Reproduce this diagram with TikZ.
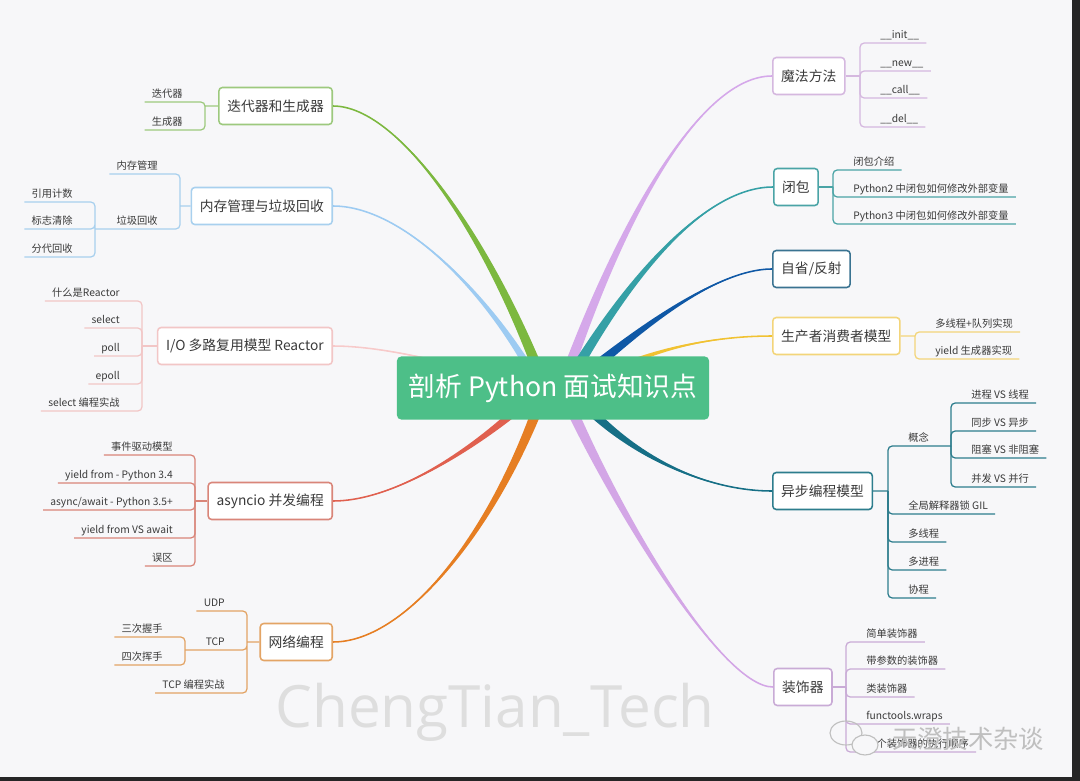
\documentclass[tikz,border=0pt]{standalone}
\usepackage{fontspec}
\setmainfont{Noto Sans CJK SC}
\newfontfamily\markfont{Open Sans}
\usetikzlibrary{calc}

\definecolor{paper}{HTML}{F7F7F9}
\definecolor{frame}{HTML}{262626}
\definecolor{ink}{HTML}{3A3A3A}
\definecolor{rootgreen}{HTML}{4DBF88}
\definecolor{cIter}{HTML}{7CB83F}  \definecolor{lIter}{HTML}{9DC97E}
\definecolor{cMem}{HTML}{9DCBF2}   \definecolor{lMem}{HTML}{A8D0EE}
\definecolor{cIO}{HTML}{F7CACA}    \definecolor{lIO}{HTML}{F2C6C6}
\definecolor{cAio}{HTML}{E0604F}   \definecolor{lAio}{HTML}{D98579}
\definecolor{cNet}{HTML}{E67E22}   \definecolor{lNet}{HTML}{E3A465}
\definecolor{cMagic}{HTML}{D5A8EA} \definecolor{lMagic}{HTML}{D5B8DF}
\definecolor{cClos}{HTML}{35A0A6}  \definecolor{lClos}{HTML}{4AA4A6}
\definecolor{cRefl}{HTML}{0F58A6}  \definecolor{lRefl}{HTML}{3A7391}
\definecolor{cProd}{HTML}{F1C232}  \definecolor{lProd}{HTML}{F3D57A}
\definecolor{cAsync}{HTML}{166F86} \definecolor{lAsync}{HTML}{2D7D8D}
\definecolor{cDeco}{HTML}{D3A6E6}  \definecolor{lDeco}{HTML}{C9ABD6}

\pgfdeclarelayer{back}
\pgfdeclarelayer{limbs}
\pgfsetlayers{back,limbs,main}

% tapered branch: colour, start (offset from root), control 1, control 2, end, half width
\newcommand{\limb}[6]{%
  \fill[#1] ($(root)+#2+#6$) .. controls ($#3+0.5*#6$) and #4 .. #5
    .. controls #4 and ($#3-0.5*#6$) .. ($(root)+#2-#6$) -- cycle;
  \draw[#1,line width=1.1pt] ($(root)+#2$) .. controls #3 and #4 .. #5;}

\begin{document}
\begin{tikzpicture}[x=0.025cm,y=-0.025cm,
  root/.style={fill=rootgreen,text=white,rounded corners=3pt,minimum width=7.8cm,
    minimum height=1.575cm,font=\fontsize{19}{22}\selectfont},
  topic/.style={draw=#1,fill=white,rounded corners=2.5pt,line width=1.1pt,text=ink,
    font=\fontsize{9.8}{12}\selectfont,inner xsep=6pt,minimum height=0.925cm},
  leaf/.style={text=ink,font=\fontsize{7.3}{9}\selectfont,inner xsep=0.175cm,
    inner ysep=1.5pt,text height=5.6pt,text depth=1.2pt},
  leafL/.style={leaf,anchor=south east},
  leafR/.style={leaf,anchor=south west},
  twig/.style={draw=#1,line width=0.9pt,rounded corners=3pt},
  wmark/.style={font=\markfont\fontsize{41.5}{44}\selectfont,anchor=base},
  wmarkcn/.style={font=\fontsize{18}{22}\selectfont,anchor=base}]
\useasboundingbox (0,0) rectangle (1080,781);
\begin{pgfonlayer}{back}
  \fill[frame] (0,0) rectangle (1080,781);
  \fill[paper] (0,0) rectangle (1072,777);
\end{pgfonlayer}

\node[root] (root) at (553,388) {剖析 Python 面试知识点};

% left topics
\node[topic=lIter,anchor=east] (iter) at (333,106) {迭代器和生成器};
\node[topic=lMem,anchor=east] (mem) at (333,206) {内存管理与垃圾回收};
\node[topic=lIO,anchor=east] (io) at (333,346) {I/O 多路复用模型 Reactor};
\node[topic=lAio,anchor=east] (aio) at (333,501) {asyncio 并发编程};
\node[topic=lNet,anchor=east] (net) at (333,642) {网络编程};
% right topics
\node[topic=lMagic,anchor=west] (magic) at (772,76) {魔法方法};
\node[topic=lClos,anchor=west] (clos) at (773,187) {闭包};
\node[topic=lRefl,anchor=west] (refl) at (772,269) {自省/反射};
\node[topic=lProd,anchor=west] (prod) at (772,336) {生产者消费者模型};
\node[topic=lAsync,anchor=west] (async) at (772,491) {异步编程模型};
\node[topic=lDeco,anchor=west] (deco) at (773,687) {装饰器};

\begin{pgfonlayer}{limbs}
  \limb{cIter}{(-8,0)}{(490,240)}{(400,106)}{(iter.east)}{(6,0)}
  \limb{cMem}{(-13,0)}{(500,310)}{(410,206)}{(mem.east)}{(5,0)}
  \limb{cIO}{(-20,0)}{(470,368)}{(390,346)}{(io.east)}{(0,2.5)}
  \limb{cAio}{(-13,0)}{(510,420)}{(410,501)}{(aio.east)}{(4,4)}
  \limb{cNet}{(-8,0)}{(500,520)}{(410,642)}{(net.east)}{(6,0)}
  \limb{cMagic}{(9,0)}{(620,220)}{(700,76)}{(magic.west)}{(6,0)}
  \limb{cClos}{(12,0)}{(620,290)}{(700,187)}{(clos.west)}{(5,3)}
  \limb{cRefl}{(17,0)}{(620,345)}{(710,269)}{(refl.west)}{(4,5)}
  \limb{cProd}{(27,0)}{(640,350)}{(710,336)}{(prod.west)}{(2,3.5)}
  \limb{cAsync}{(17,0)}{(620,450)}{(700,491)}{(async.west)}{(4.5,-3.5)}
  \limb{cDeco}{(9,0)}{(610,500)}{(720,687)}{(deco.west)}{(5.5,-2.4)}
\end{pgfonlayer}

% bracket points
\coordinate (iterB) at (205,106);
\coordinate (memB) at (180,206);
\coordinate (gcB) at (95,229);
\coordinate (ioB) at (142,346);
\coordinate (aioB) at (195,501);
\coordinate (netB) at (247,642);
\coordinate (tcpB) at (185,650);
\coordinate (magicB) at (860,76);
\coordinate (closB) at (833,187);
\coordinate (prodB) at (915,336);
\coordinate (asyncB) at (888,491);
\coordinate (ideaB) at (951,446);
\coordinate (decoB) at (846,687);

% iterators
\node[leafL] (iter1) at (190,102) {迭代器};
\node[leafL] (iter2) at (190,130) {生成器};
\draw[twig=lIter] (iter.west) -- (iterB)
  (iterB) |- (iter1.south west) (iterB) |- (iter2.south west);

% memory
\node[leafL] (mem1) at (165,174) {内存管理};
\node[leafL] (gc) at (165,229) {垃圾回收};
\node[leafL] (gc1) at (80,202) {引用计数};
\node[leafL] (gc2) at (80,229) {标志清除};
\node[leafL] (gc3) at (80,257) {分代回收};
\draw[twig=lMem] (mem.west) -- (memB)
  (memB) |- (mem1.south west) (memB) |- (gcB);
\draw[twig=lMem] (gcB) |- (gc1.south west) (gcB) |- (gc2.south west)
  (gcB) |- (gc3.south west);

% io multiplexing
\node[leafL] (io1) at (127,301) {什么是Reactor};
\node[leafL] (io2) at (127,328) {select};
\node[leafL] (io3) at (127,356) {poll};
\node[leafL] (io4) at (127,384) {epoll};
\node[leafL] (io5) at (127,411) {select 编程实战};
\draw[twig=lIO] (io.west) -- (ioB);
\foreach \i in {1,...,5}
  \draw[twig=lIO] (ioB) |- (io\i.south west);

% asyncio
\node[leafL] (aio1) at (180,455) {事件驱动模型};
\node[leafL] (aio2) at (180,483) {yield from - Python 3.4};
\node[leafL] (aio3) at (180,510) {async/await - Python 3.5+};
\node[leafL] (aio4) at (180,538) {yield from VS await};
\node[leafL] (aio5) at (180,566) {误区};
\draw[twig=lAio] (aio.west) -- (aioB);
\foreach \i in {1,...,5}
  \draw[twig=lAio] (aioB) |- (aio\i.south west);

% network
\node[leafL] (udp) at (232,611) {UDP};
\node[leafL] (tcp) at (232,650) {TCP};
\node[leafL] (tcp1) at (170,637) {三次握手};
\node[leafL] (tcp2) at (170,665) {四次挥手};
\node[leafL] (tcp3) at (232,693) {TCP 编程实战};
\draw[twig=lNet] (net.west) -- (netB)
  (netB) |- (udp.south west) (netB) |- (tcpB) (netB) |- (tcp3.south west);
\draw[twig=lNet] (tcpB) |- (tcp1.south west) (tcpB) |- (tcp2.south west);

% magic methods
\node[leafR] (mg1) at (873,43) {\_\_init\_\_};
\node[leafR] (mg2) at (873,71) {\_\_new\_\_};
\node[leafR] (mg3) at (873,98) {\_\_call\_\_};
\node[leafR] (mg4) at (873,127) {\_\_del\_\_};
\draw[twig=lMagic] (magic.east) -- (magicB);
\foreach \i in {1,...,4}
  \draw[twig=lMagic] (magicB) |- (mg\i.south east);

% closures
\node[leafR] (cl1) at (846,170) {闭包介绍};
\node[leafR] (cl2) at (846,197) {Python2 中闭包如何修改外部变量};
\node[leafR] (cl3) at (846,224) {Python3 中闭包如何修改外部变量};
\draw[twig=lClos] (clos.east) -- (closB);
\foreach \i in {1,...,3}
  \draw[twig=lClos] (closB) |- (cl\i.south east);

% producer / consumer
\node[leafR] (pc1) at (928,332) {多线程+队列实现};
\node[leafR] (pc2) at (928,359) {yield 生成器实现};
\draw[twig=lProd] (prod.east) -- (prodB)
  (prodB) |- (pc1.south east) (prodB) |- (pc2.south east);

% async models
\node[leafR] (idea) at (901,446) {概念};
\node[leafR] (idea1) at (964,403) {进程 VS 线程};
\node[leafR] (idea2) at (964,431) {同步 VS 异步};
\node[leafR] (idea3) at (964,458) {阻塞 VS 非阻塞};
\node[leafR] (idea4) at (964,487) {并发 VS 并行};
\node[leafR] (as1) at (901,514) {全局解释器锁 GIL};
\node[leafR] (as2) at (901,542) {多线程};
\node[leafR] (as3) at (901,570) {多进程};
\node[leafR] (as4) at (901,598) {协程};
\draw[twig=lAsync] (async.east) -- (asyncB) (asyncB) |- (ideaB);
\foreach \i in {1,...,4}
  \draw[twig=lAsync] (ideaB) |- (idea\i.south east);
\foreach \i in {1,...,4}
  \draw[twig=lAsync] (asyncB) |- (as\i.south east);

% decorators
\node[leafR] (dc1) at (859,642) {简单装饰器};
\node[leafR] (dc2) at (859,669) {带参数的装饰器};
\node[leafR] (dc3) at (859,697) {类装饰器};
\node[leafR] (dc4) at (859,724) {functools.wraps};
\node[leafR] (dc5) at (859,752) {多个装饰器的执行顺序};
\draw[twig=lDeco] (decoB) -- (deco.east);
\foreach \i in {1,...,5}
  \draw[twig=lDeco] (decoB) |- (dc\i.south east);

% watermarks
\node[wmark,text=black!13] (markW) at (495,727) {ChengTian\_Tech};
\draw[gray!50,line width=0.8pt] (846,733) ellipse [x radius=16, y radius=12];
\draw[gray!50,fill=paper,line width=0.8pt] (865,745) ellipse [x radius=13, y radius=10];
\node[wmarkcn,text=gray!50] (wxW) at (968,748) {天澄技术杂谈};
\end{tikzpicture}
\end{document}
